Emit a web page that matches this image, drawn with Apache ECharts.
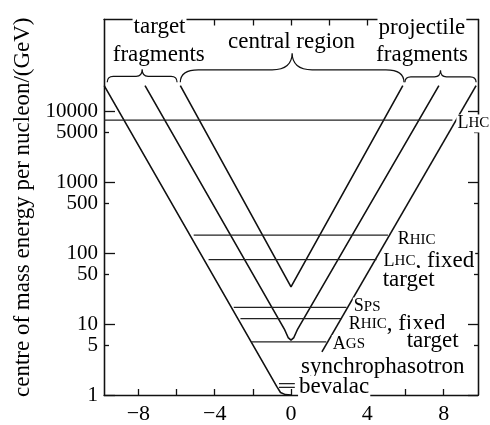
<!DOCTYPE html>
<html><head><meta charset="utf-8">
<script src="https://cdn.jsdelivr.net/npm/echarts@6/dist/echarts.min.js"></script>
<style>html,body{margin:0;padding:0;background:#fff}#c{width:490px;height:425px}</style>
</head><body><div id="c"></div>
<script>
// ---------------- data ----------------
const rapidityTicks = [-8, -6, -4, -2, 0, 2, 4, 6, 8];
const rapidityTickLabels = [-8, -4, 0, 4, 8];
const energyTickLabels = [1, 5, 10, 50, 100, 500, 1000, 5000, 10000];
const energyDecadeTicks = [1, 10, 100, 1000, 10000];
const energyHalfTicks = [5, 50, 500, 5000];
const rapidityRange = [-9.8, 9.8];
const energyRange = [1, 197000];

// rapidity boundaries: x = rapidity, E = GeV
const outerLeftX = [-9.79, -0.75, -0.55, -0.3, 0];
const outerLeftE = [22960, 1.32, 1.084, 1.012, 1.0];
const outerRightX = [9.70, 1.62];
const outerRightE = [22960, 4.05];
const middleX = [-7.65, -0.35, -0.15, 0, 0.15, 0.35, 7.75];
const middleE = [22960, 8.51, 6.46, 5.94, 6.46, 8.51, 22960];
const innerX = [-5.80, 0, 5.86];
const innerE = [22960, 33.4, 22960];

// accelerators: energy (GeV) and rapidity span of each horizontal line
const accelerators = ['LHC', 'RHIC', 'LHC, fixed target', 'SPS', 'RHIC, fixed target', 'AGS', 'synchrophasotron', 'bevalac'];
const accelEnergy = [7500, 180, 81, 17.2, 11.9, 5.6, 1.45, 1.28];
const accelFrom = [-9.8, -5.10, -4.32, -3.0, -2.65, -2.09, -0.63, -0.63];
const accelTo = [8.46, 5.08, 4.48, 2.91, 2.65, 1.85, 0.2, 0.2];

// rapidity regions (braces)
const regionNames = ['target fragments', 'central region', 'projectile fragments'];
const regionFrom = [-9.63, -5.80, 5.97];
const regionTo = [-5.97, 5.92, 9.70];

// ---------------- rendering ----------------
const L = Math.log10;
const FONT = 'Liberation Serif';
const INK = '#111';
const pts = (xs, es) => xs.map((x, i) => [x, L(es[i])]);

const series = [];
[[outerLeftX, outerLeftE], [outerRightX, outerRightE], [middleX, middleE], [innerX, innerE]].forEach(([xs, es]) => {
  series.push({ type: 'line', data: pts(xs, es), symbol: 'none', silent: true, animation: false, z: 3,
    lineStyle: { color: INK, width: 1.6 } });
});
accelerators.forEach((name, i) => {
  const y = L(accelEnergy[i]);
  series.push({ type: 'line', name, data: [[accelFrom[i], y], [accelTo[i], y]], symbol: 'none', silent: true,
    animation: false, z: 3, lineStyle: { color: '#222', width: 1.3 } });
});

// braces
const braceBaseLog = 4.408;
const braceShape = [{ a: 6, t: 7, c: 6, d: 6 }, { a: 12.5, t: 17, c: 18, d: 20 }, { a: 5.5, t: 6.5, c: 6, d: 6 }];
series.push({
  type: 'custom', animation: false, silent: true, z: 4,
  data: regionNames.map((n, i) => [regionFrom[i], braceBaseLog, regionTo[i], i]),
  renderItem: (params, api) => {
    const p1 = api.coord([api.value(0), api.value(1)]);
    const p2 = api.coord([api.value(2), api.value(1)]);
    const s = braceShape[api.value(3)];
    const x1 = p1[0], x2 = p2[0], yb = p1[1], m = (x1 + x2) / 2, yf = yb - s.a, yt = yf - s.t;
    const d = `M${x1},${yb}Q${x1},${yf} ${x1 + s.c},${yf}L${m - s.d},${yf}Q${m},${yf} ${m},${yt}` +
      `Q${m},${yf} ${m + s.d},${yf}L${x2 - s.c},${yf}Q${x2},${yf} ${x2},${yb}`;
    return { type: 'path', shape: { pathData: d }, style: { fill: 'none', stroke: INK, lineWidth: 1.2 } };
  }
});

// text annotations (anchored in axis coordinates: rapidity, log10 E)
const rich = {
  c: { fontSize: 18, fontFamily: FONT, fill: '#000' },
  s: { fontSize: 15, fontFamily: FONT, fill: '#000' },
  b: { fontSize: 23, fontFamily: FONT, fill: '#000' }
};
const annots = [
  { t: '{b|target}', x: -6.89, y: 5.19, al: 'center' },
  { t: '{b|fragments}', x: -6.93, y: 4.80, al: 'center' },
  { t: '{b|central region}', x: 0.03, y: 4.982, al: 'center' },
  { t: '{b|projectile}', x: 6.86, y: 5.176, al: 'center' },
  { t: '{b|fragments}', x: 6.87, y: 4.80, al: 'center' },
  { t: '{c|L}{s|HC}', x: 8.67, y: 3.829, al: 'left' },
  { t: '{c|R}{s|HIC}', x: 5.54, y: 2.19, al: 'left' },
  { t: '{c|L}{s|HC}{b|, fixed}', x: 4.80, y: 1.885, al: 'left' },
  { t: '{b|target}', x: 4.75, y: 1.628, al: 'left' },
  { t: '{c|S}{s|PS}', x: 3.24, y: 1.246, al: 'left' },
  { t: '{c|R}{s|HIC}{b|, fixed}', x: 2.98, y: 0.996, al: 'left' },
  { t: '{b|target}', x: 6.01, y: 0.767, al: 'left' },
  { t: '{c|A}{s|GS}', x: 2.14, y: 0.718, al: 'left' },
  { t: '{b|synchrophasotron}', x: 0.47, y: 0.392, al: 'left' },
  { t: '{b|bevalac}', x: 0.37, y: 0.107, al: 'left' }
];
series.push({
  type: 'custom', animation: false, silent: true, z: 6,
  data: annots.map((a, i) => [a.x, a.y, i]),
  renderItem: (params, api) => {
    const a = annots[api.value(2)];
    const p = api.coord([api.value(0), api.value(1)]);
    return { type: 'text', x: p[0], y: p[1], z2: 10,
      style: { text: a.t, rich, align: a.al, verticalAlign: 'middle', backgroundColor: '#fff', padding: [0, 1] } };
  }
});

const axLine = { show: true, onZero: false, lineStyle: { color: INK, width: 1.3 } };
const tickStyle = { color: INK, width: 1.3 };
const xBase = { type: 'value', min: rapidityRange[0], max: rapidityRange[1], splitLine: { show: false }, axisLine: axLine };
const yBase = { type: 'value', min: L(energyRange[0]), max: L(energyRange[1]), splitLine: { show: false }, axisLine: axLine };

const option = {
  backgroundColor: '#fff',
  animation: false,
  grid: { left: 104, right: 12, top: 19.5, bottom: 24.3 },
  xAxis: [
    { ...xBase, position: 'bottom',
      axisTick: { show: true, inside: true, length: 6, customValues: rapidityTicks, lineStyle: tickStyle },
      axisLabel: { customValues: rapidityTickLabels, color: '#000', fontFamily: FONT, fontSize: 22, margin: 8,
        formatter: v => v < 0 ? '\u2212' + Math.abs(v) : String(v) } },
    { ...xBase, position: 'top',
      axisTick: { show: true, inside: true, length: 6, customValues: rapidityTicks, lineStyle: tickStyle },
      axisLabel: { show: false } }
  ],
  yAxis: [
    { ...yBase, position: 'left',
      axisTick: { show: true, inside: true, length: 11, customValues: energyDecadeTicks.map(L), lineStyle: tickStyle },
      axisLabel: { customValues: energyTickLabels.map(L), color: '#000', fontFamily: FONT, fontSize: 21, margin: 6,
        formatter: v => String(Math.round(Math.pow(10, v))) },
      name: 'centre of mass energy per nucleon/(GeV)', nameLocation: 'middle', nameGap: 67,
      nameTextStyle: { color: '#000', fontFamily: FONT, fontSize: 23 } },
    { ...yBase, position: 'left',
      axisTick: { show: true, inside: true, length: 5, customValues: energyHalfTicks.map(L), lineStyle: tickStyle },
      axisLabel: { show: false } },
    { ...yBase, position: 'right',
      axisTick: { show: true, inside: true, length: 10, customValues: energyDecadeTicks.map(L), lineStyle: tickStyle },
      axisLabel: { show: false } },
    { ...yBase, position: 'right',
      axisTick: { show: true, inside: true, length: 4, customValues: energyHalfTicks.map(L), lineStyle: tickStyle },
      axisLabel: { show: false } }
  ],
  series
};
const chart = echarts.init(document.getElementById('c'), null, { renderer: 'canvas' });
chart.setOption(option);
</script></body></html>
